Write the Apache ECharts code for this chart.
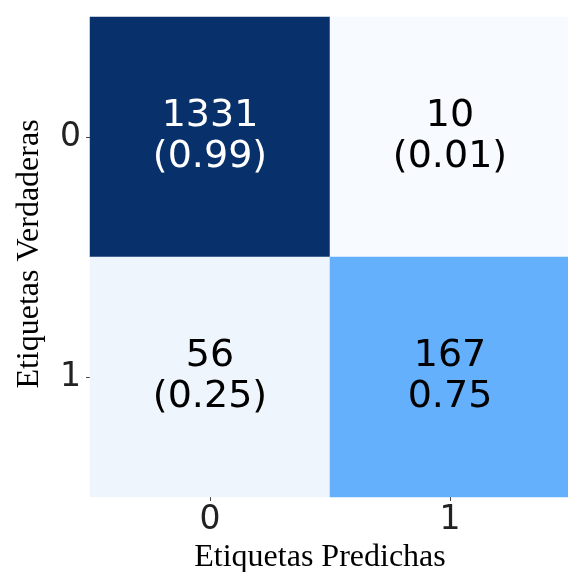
<!DOCTYPE html>
<html>
<head>
<meta charset="utf-8">
<script src="https://cdn.jsdelivr.net/npm/echarts@6/dist/echarts.min.js"></script>
<style>
  html, body { margin: 0; padding: 0; background: #fff; }
  #chart { width: 568px; height: 572px; }
</style>
</head>
<body>
<div id="chart"></div>
<script>
// confusion matrix values
const predLabels = ['0', '1'];
const trueLabels = ['0', '1'];
const counts = [
  [1331, 10],
  [56, 167]
];
const ratioText = [
  ['(0.99)', '(0.01)'],
  ['(0.25)', '0.75']
];

// cell fills (true row, pred col)
const cellColors = [
  ['#08306b', '#f7fbff'],
  ['#eff5fd', '#64b0fd']
];
const textColors = [
  ['#ffffff', '#000000'],
  ['#000000', '#000000']
];

const data = [];
counts.forEach((row, r) => {
  row.forEach((v, c) => {
    data.push([c, r, v]);
  });
});

const chart = echarts.init(document.getElementById('chart'));

const option = {
  animation: false,
  grid: {
    left: 90,
    top: 17,
    width: 480,
    height: 480,
    outerBoundsMode: 'none',
    containLabel: false
  },
  xAxis: {
    type: 'category',
    data: predLabels,
    name: 'Etiquetas Predichas',
    nameLocation: 'middle',
    nameGap: 41,
    nameTextStyle: {
      fontFamily: 'Liberation Serif',
      fontSize: 32,
      color: '#000',
      padding: [0, 20, 0, 0]
    },
    axisLine: { show: false },
    axisTick: {
      show: true,
      alignWithLabel: true,
      length: 4,
      lineStyle: { color: '#444' }
    },
    axisLabel: {
      fontFamily: 'DejaVu Sans',
      fontSize: 33,
      color: '#222',
      margin: 7
    },
    splitArea: { show: false }
  },
  yAxis: {
    type: 'category',
    data: trueLabels,
    inverse: true,
    name: 'Etiquetas Verdaderas',
    nameLocation: 'middle',
    nameGap: 44,
    nameRotate: 90,
    nameTextStyle: {
      fontFamily: 'Liberation Serif',
      fontSize: 32,
      color: '#000',
      padding: [0, 0, 0, 6]
    },
    axisLine: { show: false },
    axisTick: {
      show: true,
      alignWithLabel: true,
      length: 4,
      lineStyle: { color: '#444' }
    },
    axisLabel: {
      fontFamily: 'DejaVu Sans',
      fontSize: 33,
      color: '#222',
      margin: 9
    },
    splitArea: { show: false }
  },
  series: [
    {
      type: 'heatmap',
      itemStyle: {
        color: (p) => cellColors[p.value[1]][p.value[0]]
      },
      label: {
        show: true,
        fontFamily: 'DejaVu Sans',
        fontSize: 38,
        lineHeight: 41,
        formatter: (p) => p.value[2] + '\n' + ratioText[p.value[1]][p.value[0]]
      },
      emphasis: { disabled: true },
      // per-cell text colour
      data: data.map((d) => ({
        value: d,
        label: { color: textColors[d[1]][d[0]] }
      }))
    }
  ]
};

chart.setOption(option);
</script>
</body>
</html>
